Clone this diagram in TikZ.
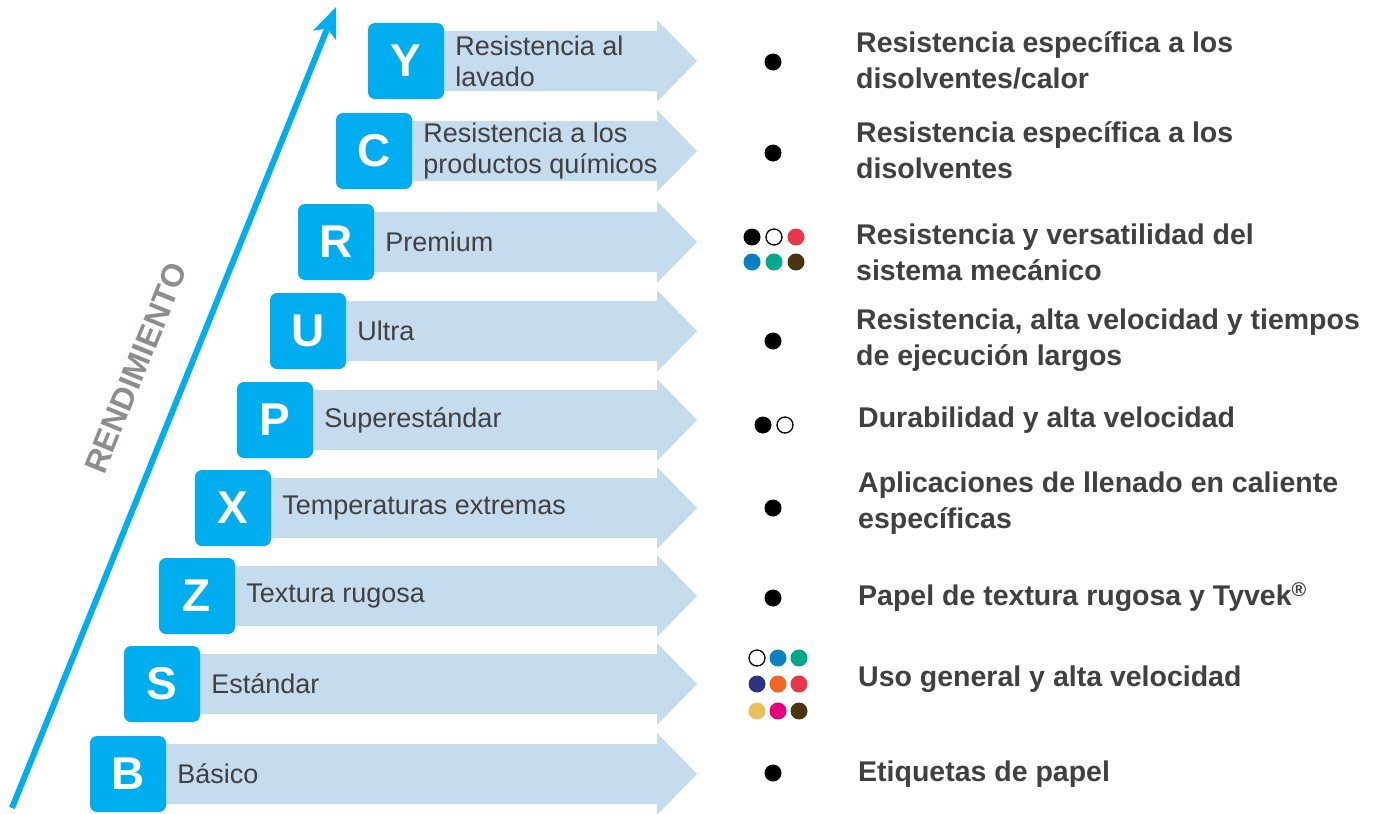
\documentclass[tikz,border=0pt]{standalone}
\usepackage{fontspec}
\setmainfont{Liberation Sans}
\usetikzlibrary{arrows.meta,positioning}
\definecolor{boxblue}{HTML}{00AEEF}
\definecolor{bandblue}{HTML}{C5DCEF}
\definecolor{txtgray}{HTML}{404040}
\definecolor{axisgray}{HTML}{8A8F8A}
\definecolor{dotred}{HTML}{E8374A}
\definecolor{dotblue}{HTML}{0A7FC1}
\definecolor{dotteal}{HTML}{00A88A}
\definecolor{dotbrown}{HTML}{4A3410}
\definecolor{dotnavy}{HTML}{2A3480}
\definecolor{dotorange}{HTML}{F26522}
\definecolor{dotyellow}{HTML}{E8C15A}
\definecolor{dotpink}{HTML}{E6007E}
\tikzset{
  letterbox/.style={fill=boxblue, rounded corners=7pt, minimum width=76pt, minimum height=76pt,
    inner sep=0pt, text=white, font=\fontsize{46}{46}\selectfont\bfseries},
  band/.style={fill=bandblue},
  grade/.style={anchor=west, inner sep=0pt, align=left, text=txtgray,
    font=\fontsize{27}{31}\selectfont},
  usage/.style={anchor=west, inner sep=0pt, align=left, text=txtgray,
    font=\fontsize{28.5}{36}\selectfont\bfseries},
  dot/.style={circle, fill=black, minimum size=17pt, inner sep=0pt},
  opendot/.style={circle, draw=black, line width=1.3pt, fill=white, minimum size=16pt, inner sep=0pt}
}
\begin{document}
\begin{tikzpicture}[x=1pt,y=-1pt]
    \useasboundingbox (0,0) rectangle (1385,814);
    \foreach \x/\cy in {406/61,374/151,336/242,308/331,275/420,233/508,197/596,162/684,128/774}
        \fill[band] (\x,\cy-30) -- (657,\cy-30) -- (657,\cy-41) -- (697,\cy)
            -- (657,\cy+41) -- (657,\cy+30) -- (\x,\cy+30) -- cycle;

    \node[letterbox](Y) at (406,61)  {Y};
    \node[letterbox](C) at (374,151) {C};
    \node[letterbox](R) at (336,242) {R};
    \node[letterbox](U) at (308,331) {U};
    \node[letterbox](P) at (275,420) {P};
    \node[letterbox](X) at (233,508) {X};
    \node[letterbox](Z) at (197,596) {Z};
    \node[letterbox](S) at (162,684) {S};
    \node[letterbox](B) at (128,774) {B};

    \node[grade, right=11pt of Y](tY) {Resistencia al\\lavado};
    \node[grade, right=11pt of C](tC) {Resistencia a los\\productos químicos};
    \node[grade, right=11pt of R](tR) {Premium};
    \node[grade, right=11pt of U](tU) {Ultra};
    \node[grade, right=11pt of P](tP) {Superestándar};
    \node[grade, right=11pt of X](tX) {Temperaturas extremas};
    \node[grade, right=11pt of Z](tZ) {Textura rugosa};
    \node[grade, right=11pt of S](tS) {Estándar};
    \node[grade, right=11pt of B](tB) {Básico};

    \node[dot](dY) at (773,62) {};
    \node[dot](dC) at (773,153) {};
    \node[dot](dR1) at (752,237) {};
    \node[opendot](dR2) at (774,237) {};
    \node[dot, fill=dotred](dR3) at (796,237) {};
    \node[dot, fill=dotblue](dR4) at (752,262) {};
    \node[dot, fill=dotteal](dR5) at (774,262) {};
    \node[dot, fill=dotbrown](dR6) at (796,262) {};
    \node[dot](dU) at (773,341) {};
    \node[dot](dP1) at (763,425) {};
    \node[opendot](dP2) at (785,425) {};
    \node[dot](dX) at (773,508) {};
    \node[dot](dZ) at (773,598) {};
    \node[opendot](dS1) at (757,658) {};
    \node[dot, fill=dotblue](dS2) at (778,658) {};
    \node[dot, fill=dotteal](dS3) at (799,658) {};
    \node[dot, fill=dotnavy](dS4) at (757,684) {};
    \node[dot, fill=dotorange](dS5) at (778,684) {};
    \node[dot, fill=dotred](dS6) at (799,684) {};
    \node[dot, fill=dotyellow](dS7) at (757,711) {};
    \node[dot, fill=dotpink](dS8) at (778,711) {};
    \node[dot, fill=dotbrown](dS9) at (799,711) {};
    \node[dot](dB) at (773,773) {};

    \node[usage](uY) at (856,60)  {Resistencia específica a los\\disolventes/calor};
    \node[usage](uC) at (856,150) {Resistencia específica a los\\disolventes};
    \node[usage](uR) at (856,252) {Resistencia y versatilidad del\\sistema mecánico};
    \node[usage](uU) at (856,340) {Resistencia, alta velocidad y tiempos\\de ejecución largos};
    \node[usage](uP) at (858,420) {Durabilidad y alta velocidad};
    \node[usage](uX) at (858,503) {Aplicaciones de llenado en caliente\\específicas};
    \node[usage](uZ) at (858,597) {Papel de textura rugosa y Tyvek\textsuperscript{®}};
    \node[usage](uS) at (858,679) {Uso general y alta velocidad};
    \node[usage](uB) at (858,774) {Etiquetas de papel};

    \coordinate (low) at (12,808);
    \coordinate (high) at (336,7);
    \draw[boxblue, line width=6pt, -{Stealth[length=30pt, width=24pt, inset=7pt]}] (low) -- (high);
    \node[rotate=67.9, text=axisgray, font=\fontsize{32}{32}\selectfont\bfseries](perf) at (136,368) {RENDIMIENTO};
\end{tikzpicture}
\end{document}
